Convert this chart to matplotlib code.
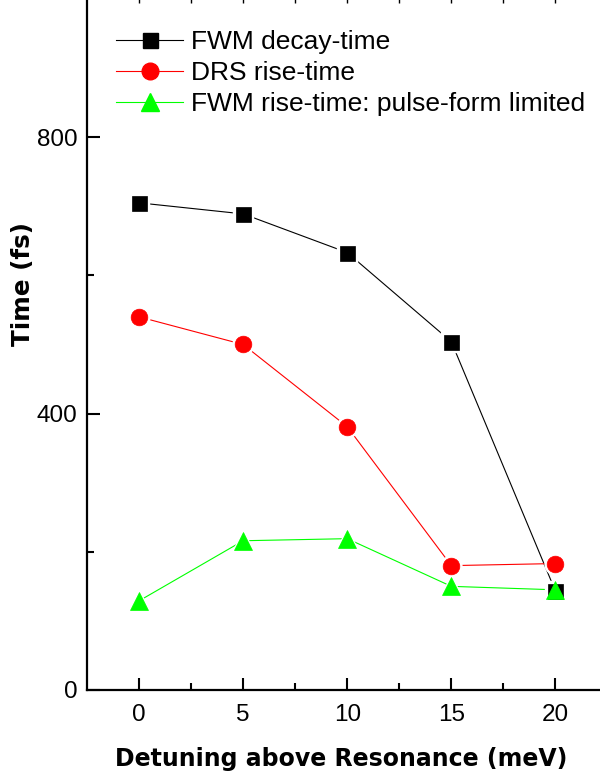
import matplotlib
matplotlib.use("Agg")
import matplotlib.pyplot as plt
from matplotlib.lines import Line2D

plt.rcParams["font.family"] = ["Liberation Sans", "DejaVu Sans"]

detuning = [0, 5, 10, 15, 20]
fwm_decay = [705, 689, 633, 504, 143]
drs_rise = [540, 500, 381, 180, 183]
fwm_rise = [129, 216, 219, 150, 145]

series = [
    (fwm_decay, "black", "s", 10.8, "FWM decay-time"),
    (drs_rise, "#FF0000", "o", 12, "DRS rise-time"),
    (fwm_rise, "#00FF00", "^", 13.5, "FWM rise-time: pulse-form limited"),
]

fig = plt.figure(figsize=(6, 7.74), dpi=100)
ax = fig.add_axes([87 / 600, 1 - 690 / 774, 520.5 / 600, 691 / 774])

# lines first, then white halos so the lines stop short of the markers
for y, c, m, ms, lab in series:
    ax.plot(detuning, y, "-", color=c, lw=0.8, zorder=2)
for y, c, m, ms, lab in series:
    ax.plot(detuning, y, ls="none", marker=m, ms=ms + 3, mfc="white", mec="white", zorder=3)
for y, c, m, ms, lab in series:
    ax.plot(detuning, y, ls="none", marker=m, ms=ms, mfc=c, mec=c, mew=0.5, zorder=4)

handles = [Line2D([], [], color=c, lw=0.8, marker=m, ms=ms, mfc=c, mec=c) for y, c, m, ms, lab in series]
labels = [s[4] for s in series]
ax.legend(handles, labels, loc="upper left", bbox_to_anchor=((116 - 87) / 520.5, 0.955),
          frameon=False, fontsize=19, handlelength=2.55, handletextpad=0.3,
          labelspacing=0.26, borderpad=0, borderaxespad=0)

ax.set_xlim(-2.5, 22.5)
ax.set_ylim(0, 1000)
ax.set_xticks([0, 5, 10, 15, 20])
ax.set_xticks([2.5, 7.5, 12.5, 17.5], minor=True)
ax.set_yticks([0, 400, 800])
ax.set_yticks([200, 600], minor=True)

ax.tick_params(which="major", direction="in", length=9, width=1.5, labelsize=17.5)
ax.tick_params(which="minor", direction="in", length=5, width=1.5)
ax.tick_params(axis="x", pad=10)
ax.tick_params(axis="y", pad=7)

for sp in ["left", "bottom"]:
    ax.spines[sp].set_linewidth(1.6)
ax.spines["top"].set_linewidth(1.2)
ax.spines["right"].set_visible(False)

top = ax.secondary_xaxis("top")
top.set_xticks([0, 2.5, 5, 7.5, 10, 12.5, 15, 17.5, 20])
top.tick_params(direction="in", length=3, width=1.0, labeltop=False)

ax.set_xlabel("Detuning above Resonance (meV)", fontsize=17, fontweight="bold",
              family=["DejaVu Sans"])
ax.xaxis.set_label_coords(0.488, -0.082)
ax.set_ylabel("Time (fs)", fontsize=17.7, fontweight="bold", family=["DejaVu Sans"])
ax.yaxis.set_label_coords(-0.1, 0.5875)

fig.savefig("out.png", dpi=100)
